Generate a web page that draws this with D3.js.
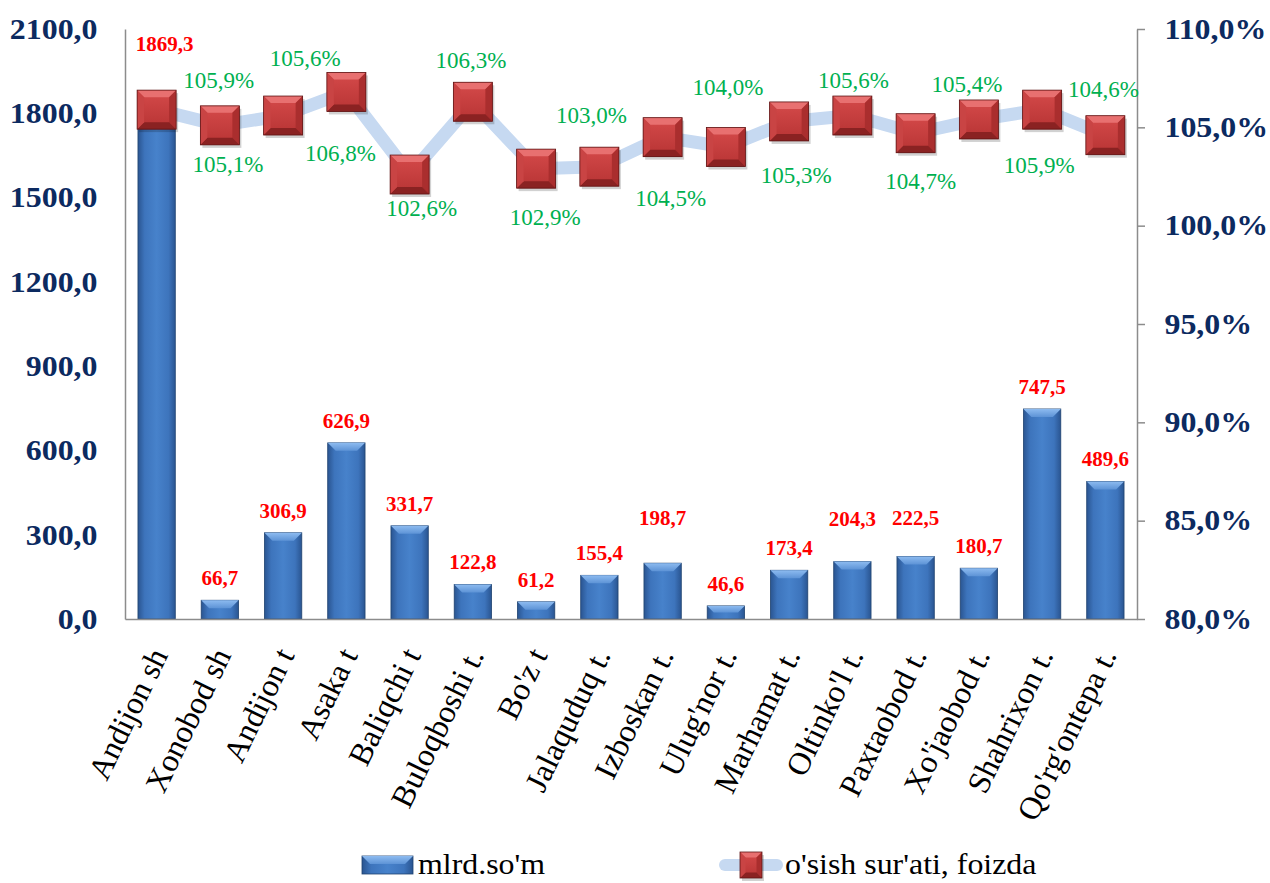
<!DOCTYPE html>
<html>
<head>
<meta charset="utf-8">
<script src="https://cdn.jsdelivr.net/npm/d3@7.9.0/dist/d3.min.js"></script>
<style>
  body { margin: 0; background: #fff; }
  svg { display: block; font-family: "Liberation Serif", "Times New Roman", serif; }
</style>
</head>
<body>
<svg id="chart" width="1270" height="883"></svg>
<script>
const categories = ["Andijon sh", "Xonobod sh", "Andijon t", "Asaka t", "Baliqchi t", "Buloqboshi t.",
  "Bo'z t", "Jalaquduq t.", "Izboskan t.", "Ulug'nor t.", "Marhamat t.", "Oltinko'l t.",
  "Paxtaobod t.", "Xo'jaobod t.", "Shahrixon t.", "Qo'rg'ontepa t."];
const amounts = [1869.3, 66.7, 306.9, 626.9, 331.7, 122.8, 61.2, 155.4, 198.7, 46.6, 173.4, 204.3, 222.5, 180.7, 747.5, 489.6];
const growth = [105.9, 105.1, 105.6, 106.8, 102.6, 106.3, 102.9, 103.0, 104.5, 104.0, 105.3, 105.6, 104.7, 105.4, 105.9, 104.6];
const amountTicks = [0, 300, 600, 900, 1200, 1500, 1800, 2100];
const growthTicks = [80, 85, 90, 95, 100, 105, 110];
const seriesNames = ["mlrd.so'm", "o'sish sur'ati, foizda"];

// labels were nudged by hand in the original, keep those nudges here
const amountLabelLift = [28, 0, 0, 0, 0, 0, 0, 0, 23, 0, 0, 21, 16, 0, 0, 0];
const amountLabelShift = [8, 0, 0, 0, 0, 0, 0, 0, 0, 0, 0, 0, 0, 0, 0, 0];
const growthLabelShift = [[62, -30], [8, 39], [22, -58], [-6, 61], [12, 33], [-2, -42], [9, 48], [-8, -52],
  [8, 61], [2, -60], [7, 54], [1, -36], [5, 48], [-12, -36], [-3, 55], [-2, -46]];

const SX = 1.1; // the picture is a bit wider than tall, text looks stretched
const navy = '#0c2a60';
const serif = '"Liberation Serif", "Times New Roman", serif';
const svg = d3.select('#chart');

const x = d3.scaleBand().domain(categories).range([125, 1137]).paddingInner(0.41).paddingOuter(0.205);
const yL = d3.scaleLinear().domain([0, 2100]).range([619, 29]);
const yR = d3.scaleLinear().domain([80, 110]).range([619, 29]);
const fmt = d3.format('.1f');
const comma = v => fmt(v).replace('.', ',');
const bw = x.bandwidth();
const cx = c => x(c) + bw / 2;

// gradients
const defs = svg.append('defs');
const g1 = defs.append('linearGradient').attr('id', 'barBody');
[['0%', '#2a5591'], ['18%', '#3d74bc'], ['50%', '#4782cb'], ['82%', '#3d74bc'], ['100%', '#2a5591']]
  .forEach(s => g1.append('stop').attr('offset', s[0]).attr('stop-color', s[1]));
const g2 = defs.append('linearGradient').attr('id', 'barTop').attr('x1', 0).attr('y1', 0).attr('x2', 0).attr('y2', 1);
[['0%', '#8dbbf0'], ['100%', '#5d93d6']].forEach(s => g2.append('stop').attr('offset', s[0]).attr('stop-color', s[1]));
const g3 = defs.append('linearGradient').attr('id', 'mark').attr('x1', 0).attr('y1', 0).attr('x2', 0).attr('y2', 1);
[['0%', '#d54a4a'], ['100%', '#b73434']].forEach(s => g3.append('stop').attr('offset', s[0]).attr('stop-color', s[1]));

function drawBar(g, x0, y0, w, h) {
  const b = Math.min(8, h / 2);
  g.append('rect').attr('x', x0).attr('y', y0).attr('width', w).attr('height', h)
    .attr('fill', 'url(#barBody)').attr('stroke', '#1f426f').attr('stroke-width', 0.8);
  g.append('path').attr('d', `M${x0},${y0}H${x0 + w}L${x0 + w - b},${y0 + b}H${x0 + b}Z`)
    .attr('fill', 'url(#barTop)');
}

function drawMarker(g, mx, my, w, h) {
  const b = Math.min(7, w / 4), l = mx - w / 2, r = mx + w / 2, t = my - h / 2, bt = my + h / 2;
  g.append('rect').attr('x', l + 2).attr('y', t + 3).attr('width', w).attr('height', h)
    .attr('fill', '#000').attr('opacity', 0.18);
  g.append('rect').attr('x', l).attr('y', t).attr('width', w).attr('height', h).attr('fill', 'url(#mark)');
  const faces = [
    [`M${l},${t}H${r}L${r - b},${t + b}H${l + b}Z`, '#e87070'],
    [`M${r},${t}V${bt}L${r - b},${bt - b}V${t + b}Z`, '#aa2e2e'],
    [`M${l},${bt}H${r}L${r - b},${bt - b}H${l + b}Z`, '#8a2222'],
    [`M${l},${t}V${bt}L${l + b},${bt - b}V${t + b}Z`, '#c94444']
  ];
  faces.forEach(f => g.append('path').attr('d', f[0]).attr('fill', f[1]));
  g.append('rect').attr('x', l).attr('y', t).attr('width', w).attr('height', h)
    .attr('fill', 'none').attr('stroke', '#5e1414').attr('stroke-width', 0.8);
}

// bars
const barG = svg.append('g');
categories.forEach((c, i) => {
  drawBar(barG, x(c), yL(amounts[i]), bw, yL(0) - yL(amounts[i]));
});

// axes
const axL = svg.append('g').attr('transform', 'translate(125,0)')
  .call(d3.axisLeft(yL).tickValues(amountTicks).tickSize(0).tickPadding(25).tickFormat(comma));
const axR = svg.append('g').attr('transform', 'translate(1137,0)')
  .call(d3.axisRight(yR).tickValues(growthTicks).tickSizeInner(8).tickSizeOuter(0).tickPadding(17)
    .tickFormat(v => comma(v) + '%'));
const axB = svg.append('g').attr('transform', 'translate(0,619)')
  .call(d3.axisBottom(x).tickSize(0));

[axL, axR, axB].forEach(a => {
  a.attr('font-family', serif);
  a.select('.domain').attr('stroke', '#8c8c8c').attr('stroke-width', 1.5);
  a.selectAll('.tick line').attr('stroke', '#8c8c8c').attr('stroke-width', 1.5);
});
[axL, axR].forEach(a => {
  a.selectAll('.tick text').attr('font-size', 29).attr('font-weight', 'bold').attr('fill', navy)
    .attr('transform', `scale(${SX},1)`);
});
axB.selectAll('.tick text')
  .attr('font-size', 32).attr('fill', '#000')
  .attr('text-anchor', 'end').attr('y', 0).attr('dy', 0)
  .attr('transform', 'translate(12,36) rotate(-64)');

// growth line + markers
const line = d3.line().x(c => cx(c)).y((c, i) => yR(growth[i]));
svg.append('path').datum(categories).attr('d', line)
  .attr('fill', 'none').attr('stroke', '#c6d9f1').attr('stroke-width', 13)
  .attr('stroke-linejoin', 'round').attr('stroke-linecap', 'round');

const markG = svg.append('g');
categories.forEach((c, i) => drawMarker(markG, cx(c), yR(growth[i]), 39, 39));

// value labels
svg.append('g').selectAll('text').data(categories).join('text')
  .attr('x', (c, i) => cx(c) + amountLabelShift[i])
  .attr('y', (c, i) => yL(amounts[i]) - 15 - amountLabelLift[i])
  .attr('text-anchor', 'middle').attr('font-size', 21).attr('font-weight', 'bold').attr('fill', '#ff0000')
  .text((c, i) => comma(amounts[i]));

svg.append('g').selectAll('text').data(categories).join('text')
  .attr('x', (c, i) => cx(c) + growthLabelShift[i][0])
  .attr('y', (c, i) => yR(growth[i]) + growthLabelShift[i][1])
  .attr('dy', '0.35em')
  .attr('text-anchor', 'middle').attr('font-size', 23).attr('fill', '#00b050')
  .text((c, i) => comma(growth[i]) + '%');

// legend
const leg = svg.append('g');
drawBar(leg, 362, 856, 51, 18);
leg.append('text').attr('transform', `translate(418,874) scale(${SX},1)`)
  .attr('font-size', 29).attr('fill', '#000').text(seriesNames[0]);
leg.append('line').attr('x1', 725).attr('x2', 777).attr('y1', 865).attr('y2', 865)
  .attr('stroke', '#c6d9f1').attr('stroke-width', 12).attr('stroke-linecap', 'round');
drawMarker(leg, 751, 865, 22, 26);
leg.append('text').attr('transform', `translate(785,874) scale(${SX},1)`)
  .attr('font-size', 29).attr('fill', '#000').text(seriesNames[1]);
</script>
</body>
</html>
